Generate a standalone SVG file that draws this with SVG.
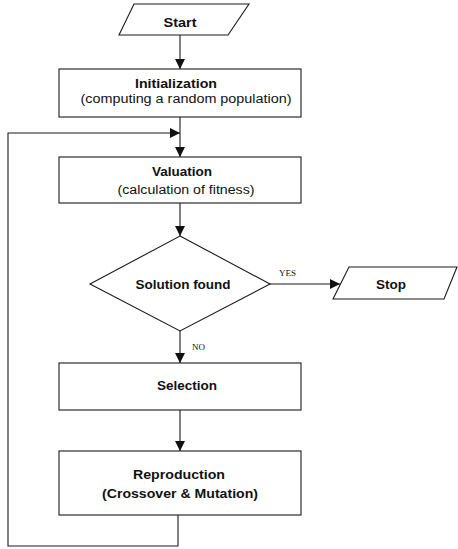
<svg xmlns="http://www.w3.org/2000/svg" width="458" height="549" viewBox="0 0 458 549">
<style>
.shape{fill:#fff;stroke:#1a1a1a;stroke-width:1.1}
.conn{fill:none;stroke:#1a1a1a;stroke-width:1.1}
.t{font-family:"Liberation Sans",Arial,sans-serif;font-weight:bold;font-size:13.5px;fill:#111;text-anchor:middle}
.s{font-family:"Liberation Sans",Arial,sans-serif;font-size:12.5px;fill:#111;text-anchor:middle}
.l{font-family:"Liberation Serif","Times New Roman",serif;font-size:9px;fill:#111}
</style>
<defs>
<marker id="arr" viewBox="0 0 10 10" refX="10" refY="5" markerWidth="10" markerHeight="10" markerUnits="userSpaceOnUse" orient="auto">
<path d="M0,0 L10,5 L0,10 Z" fill="#111"/>
</marker>
</defs>
<rect width="458" height="549" fill="#fff"/>
<g id="connectors">
<line class="conn" x1="180" y1="35" x2="180" y2="69" marker-end="url(#arr)"/>
<line class="conn" x1="180" y1="117" x2="180" y2="157" marker-end="url(#arr)"/>
<line class="conn" x1="180" y1="203" x2="180" y2="236" marker-end="url(#arr)"/>
<line class="conn" x1="270" y1="284" x2="340" y2="284" marker-end="url(#arr)"/>
<line class="conn" x1="180" y1="331" x2="180" y2="363" marker-end="url(#arr)"/>
<line class="conn" x1="180" y1="410" x2="180" y2="451" marker-end="url(#arr)"/>
<path class="conn" d="M178,515 V546 H8 V133 H180" marker-end="url(#arr)"/>
<text class="l" x="279" y="276">YES</text>
<text class="l" x="192" y="350">NO</text>
</g>
<g id="start">
<polygon class="shape" points="134,4 249,4 228,35 119,35"/>
<text class="t" x="180" y="27" textLength="33" lengthAdjust="spacingAndGlyphs">Start</text>
</g>
<g id="initialization">
<rect class="shape" x="59" y="69" width="242" height="48"/>
<text class="t" x="176" y="88" textLength="82" lengthAdjust="spacingAndGlyphs">Initialization</text>
<text class="s" x="186" y="103" textLength="211" lengthAdjust="spacingAndGlyphs">(computing a random population)</text>
</g>
<g id="valuation">
<rect class="shape" x="59" y="157" width="242" height="46"/>
<text class="t" x="182" y="176">Valuation</text>
<text class="s" x="186" y="194" textLength="137" lengthAdjust="spacingAndGlyphs">(calculation of fitness)</text>
</g>
<g id="decision">
<polygon class="shape" points="180,236 270,284 180,331 90,284"/>
<text class="t" x="183" y="289">Solution found</text>
</g>
<g id="stop">
<polygon class="shape" points="349,267 457,267 444,299 333,299"/>
<text class="t" x="391" y="289">Stop</text>
</g>
<g id="selection">
<rect class="shape" x="59" y="363" width="242" height="47"/>
<text class="t" x="187" y="390">Selection</text>
</g>
<g id="reproduction">
<rect class="shape" x="59" y="451" width="242" height="64"/>
<text class="t" x="179" y="479" textLength="92" lengthAdjust="spacingAndGlyphs">Reproduction</text>
<text class="t" x="180" y="498" textLength="156" lengthAdjust="spacingAndGlyphs">(Crossover &amp; Mutation)</text>
</g>
</svg>
